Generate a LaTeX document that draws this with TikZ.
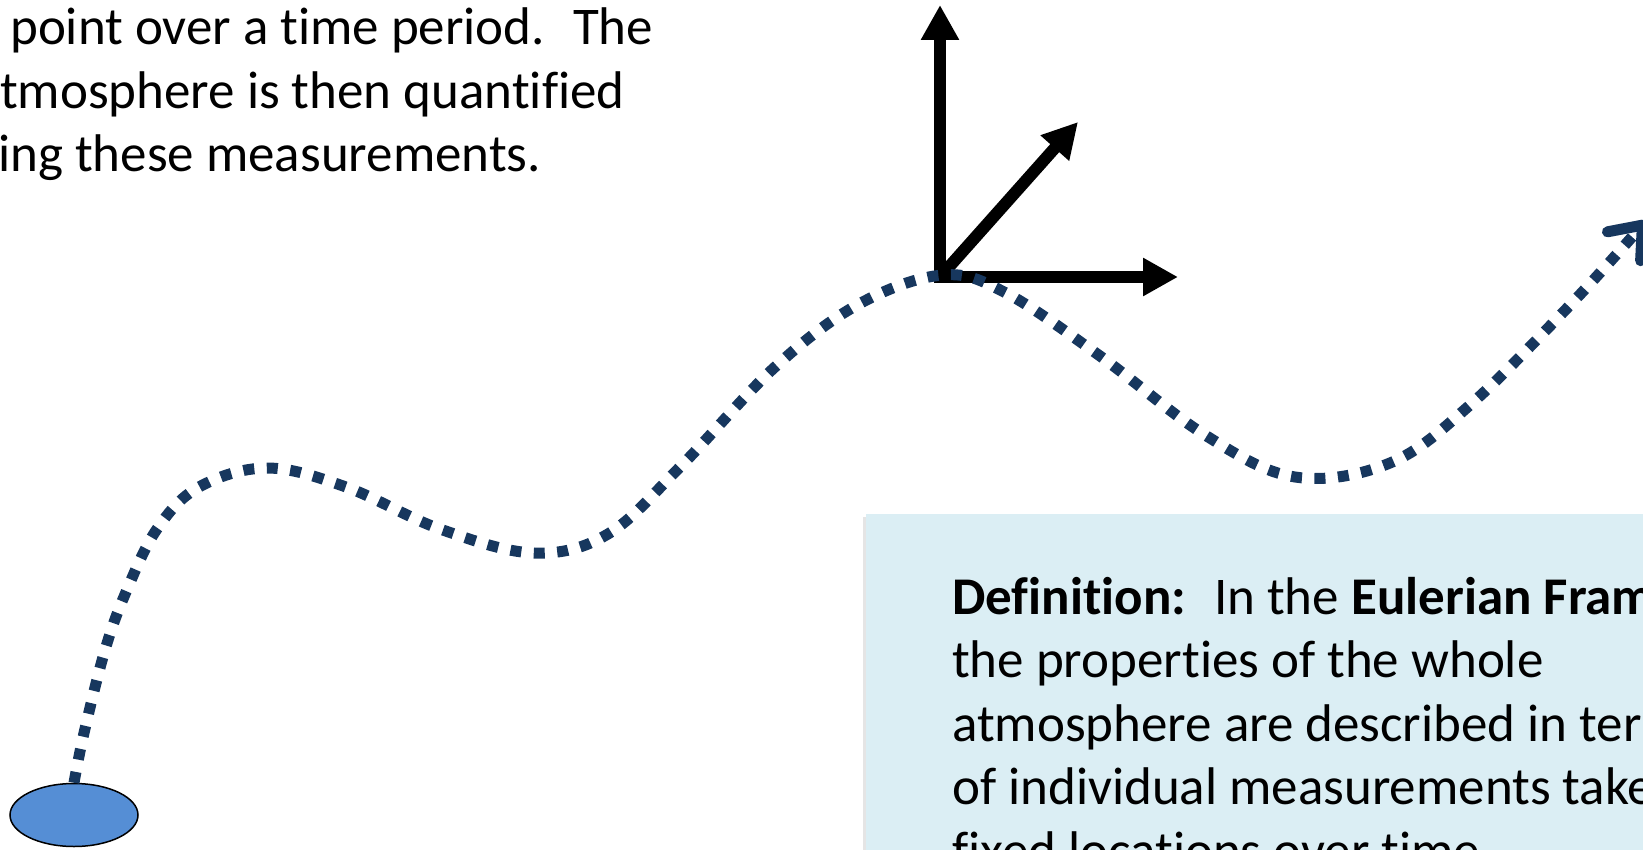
\documentclass[tikz,border=0pt]{standalone}
\usepackage{fontspec}
\setmainfont{Carlito}[Ligatures=NoCommon]
\usepackage{xcolor}
\usetikzlibrary{arrows.meta,shapes.geometric}

\definecolor{trackblue}{HTML}{17375E}
\definecolor{blobblue}{HTML}{558ED5}
\definecolor{defaqua}{HTML}{DBEEF4}
% keeps t-i and f-i apart
\newcommand{\nolig}{\kern0pt}

\begin{document}
\begin{tikzpicture}[x=1pt, y=-1pt,
    txt/.style={anchor=base west, inner sep=0pt, font=\fontsize{53}{64}\selectfont},
    axisarrow/.style={line width=12pt, -{Triangle[length=35pt, width=36pt]}},
    track/.style={trackblue, line width=11pt, dash pattern=on 11pt off 12.5pt,
                  -{Straight Barb[length=28pt, width=44pt, round]}},
    blob/.style={ellipse, draw, line width=1.5pt, fill=blobblue,
                 minimum width=128pt, minimum height=63pt, inner sep=0pt}
]
\clip (0,0) rectangle (1643,850);

% y positions of the text lines (baselines)
\def\yqa{45}
\def\yqb{109}
\def\yqc{172}
\def\xdefn{952}

% text at top left
\node[txt] (q1) at (10,\yqa) {point over a t\nolig ime period.~ The};
\node[txt] (q2) at (0,\yqb) {tmosphere is then quant\nolig if\nolig ied};
\node[txt] (q3) at (-2,\yqc) {ing these measurements.};

% definition box
\fill[black!10] (863,517) rectangle (1660,870);
\fill[defaqua] (866,514) rectangle (1660,870);
\node[txt] (d1) at (\xdefn,614) {\textbf{Def\nolig init\nolig ion:}~ In the \textbf{Eulerian Fram}};
\node[txt] (d2) at (\xdefn,677) {the propert\nolig ies of the whole};
\node[txt] (d3) at (\xdefn,741) {atmosphere are described in ter};
\node[txt] (d4) at (\xdefn,804) {of individual measurements take};
\node[txt] (d5) at (\xdefn,868) {f\nolig ixed locat\nolig ions over t\nolig ime.};

% fixed frame of axes
\coordinate (o) at (940,277);
\coordinate (zup) at (940,5);
\coordinate (xr) at (1178,277);
\coordinate (yd) at (1078,122);
\draw[axisarrow] ([yshift=6pt]o) -- (zup);
\draw[axisarrow] ([xshift=-6pt]o) -- (xr);
\draw[axisarrow] (o) -- (yd);

% parcel and its track
\node[blob] (parcel) at (74,815) {};
\coordinate (tip) at (1646,221);
\draw[track] plot[smooth, tension=0.6] coordinates {
    (parcel.north) (84,733) (105,650) (126,592) (157,529) (199,487)
    (267,468) (346,487) (440,529) (534,553) (608,534) (681,466)
    (775,367) (859,304) (943,275) (1006,293) (1100,356) (1205,435)
    (1295,477) (1390,463) (1470,405) (1572,303) (tip)};

\end{tikzpicture}
\end{document}
